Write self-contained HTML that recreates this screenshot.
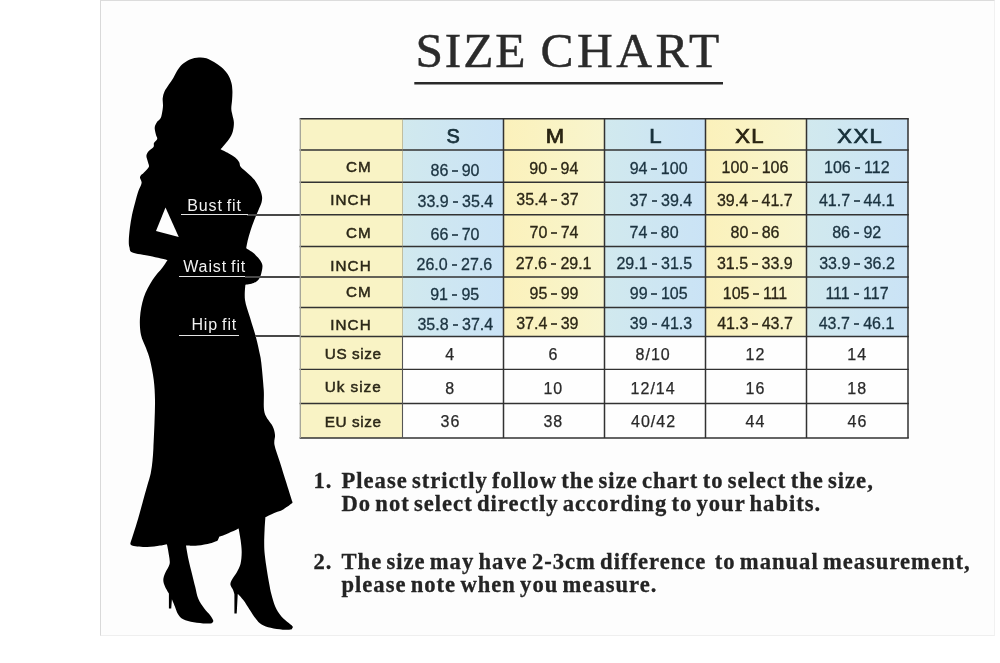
<!DOCTYPE html>
<html><head><meta charset="utf-8"><title>Size Chart</title>
<style>
html,body{margin:0;padding:0;background:#fff;}
body{width:1000px;height:663px;position:relative;overflow:hidden;font-family:"Liberation Sans",sans-serif;}
#panel{position:absolute;left:100px;top:0;width:895px;height:636px;background:#fdfdfd;border-left:1.5px solid #d9d9d9;border-top:1px solid #dcdcdc;border-right:1px solid #f1f1f1;border-bottom:1.5px solid #efefef;box-sizing:border-box;}
#all{position:absolute;left:0;top:0;width:1000px;height:663px;will-change:transform;}
#title{position:absolute;left:415.4px;top:22.6px;font-family:"Liberation Serif",serif;font-size:49.5px;line-height:56px;letter-spacing:1.9px;word-spacing:-1.2px;color:#2b2b2b;white-space:nowrap;-webkit-text-stroke:0.45px #2b2b2b;}
#title b{font-weight:normal;letter-spacing:3.5px;}
.bg{position:absolute;}
.t{position:absolute;width:0;height:20px;line-height:20px;white-space:nowrap;display:flex;justify-content:center;}
.t span{display:inline-block;flex:none;}
.h{height:24px;line-height:24px;}
.h span{font-size:19.5px;letter-spacing:1.2px;margin-right:-1.2px;transform:scaleX(1.13);-webkit-text-stroke:0.7px currentColor;}
.hb{color:#17303a;}
.hy{color:#2a2412;}
.d span{font-size:16px;letter-spacing:0;-webkit-text-stroke:0.3px currentColor;}
i{display:inline-block;width:5.6px;height:2px;background:currentColor;opacity:.8;margin:0 3.9px;vertical-align:4px;}
.db{color:#1b3340;}
.dy{color:#2b2616;}
.dn{color:#2a2a2a;}
.dn span{letter-spacing:1px;margin-right:-1px;-webkit-text-stroke:0.25px currentColor;}
.l{position:absolute;height:20px;line-height:20px;white-space:nowrap;color:#2c2818;-webkit-text-stroke:0.25px #2c2818;}
.lr{font-size:15.2px;letter-spacing:1.1px;-webkit-text-stroke-width:0.5px;}
.ll{font-size:15.3px;letter-spacing:0.6px;-webkit-text-stroke-width:0.5px;}
.lab{position:absolute;color:#f2f2f2;font-size:16px;letter-spacing:0.9px;word-spacing:-1.4px;white-space:nowrap;line-height:18px;}
.wl{position:absolute;height:1px;background:#e4e4e4;}
.bl{position:absolute;height:1.4px;background:#484848;}
.note{position:absolute;font-family:"Liberation Serif",serif;font-weight:bold;font-size:22.6px;line-height:22.9px;letter-spacing:1px;word-spacing:-2.4px;-webkit-text-stroke:0.3px #242424;color:#242424;white-space:nowrap;}
</style></head><body>
<div id="panel"></div>
<div id="all">
<div id="title">SIZE <b>CHART</b></div>

<svg width="1000" height="663" style="position:absolute;left:0;top:0" viewBox="0 0 1000 663">
<path d="M198.90 57.50 C201.65 57.32 203.88 57.53 206.40 58.30 C208.92 59.07 211.48 60.60 214.00 62.10 C216.52 63.60 219.23 65.30 221.50 67.30 C223.77 69.30 225.97 71.58 227.60 74.10 C229.23 76.62 230.50 79.63 231.30 82.40 C232.10 85.17 232.27 87.80 232.40 90.70 C232.53 93.60 232.28 96.78 232.10 99.80 C231.92 102.82 231.25 106.28 231.30 108.80 C231.35 111.32 231.97 112.63 232.40 114.90 C232.83 117.17 233.83 119.65 233.90 122.40 C233.97 125.15 233.60 128.63 232.80 131.40 C232.00 134.17 230.73 136.48 229.10 139.00 C227.47 141.52 224.43 144.78 223.00 146.50 C221.57 148.22 220.50 149.30 220.50 149.30 C220.50 149.30 226.35 152.05 228.80 153.40 C231.25 154.75 233.47 155.93 235.20 157.40 C236.93 158.87 238.27 160.60 239.20 162.20 C240.13 163.80 239.33 165.13 240.80 167.00 C242.27 168.87 245.73 171.27 248.00 173.40 C250.27 175.53 252.53 177.40 254.40 179.80 C256.27 182.20 257.95 185.13 259.20 187.80 C260.45 190.47 261.50 193.40 261.90 195.80 C262.30 198.20 262.18 199.80 261.60 202.20 C261.02 204.60 259.60 207.27 258.40 210.20 C257.20 213.13 255.73 216.33 254.40 219.80 C253.07 223.27 251.52 227.53 250.40 231.00 C249.28 234.47 248.40 237.72 247.70 240.60 C247.00 243.48 246.20 248.30 246.20 248.30 C246.20 248.30 250.67 250.85 252.80 252.60 C254.93 254.35 257.42 256.78 259.00 258.80 C260.58 260.82 261.85 262.60 262.30 264.70 C262.75 266.80 262.25 269.02 261.70 271.40 C261.15 273.78 260.33 277.07 259.00 279.00 C257.67 280.93 255.97 282.05 253.70 283.00 C251.43 283.95 245.40 284.70 245.40 284.70 C245.40 284.70 244.23 294.53 245.00 300.00 C245.77 305.47 248.17 311.25 250.00 317.50 C251.83 323.75 254.33 331.25 256.00 337.50 C257.67 343.75 259.12 350.83 260.00 355.00 C260.88 359.17 260.62 356.67 261.25 362.50 C261.88 368.33 263.21 381.67 263.75 390.00 C264.29 398.33 263.04 406.50 264.50 412.50 C265.96 418.50 270.75 422.25 272.50 426.00 C274.25 429.75 274.67 431.83 275.00 435.00 C275.33 438.17 273.67 440.42 274.50 445.00 C275.33 449.58 278.04 456.25 280.00 462.50 C281.96 468.75 284.20 475.98 286.25 482.50 C288.30 489.02 292.30 501.60 292.30 501.60 C292.30 501.60 293.20 502.25 291.60 503.60 C290.00 504.95 285.38 508.20 282.70 509.70 C280.02 511.20 278.38 511.33 275.50 512.60 C272.62 513.87 265.40 517.30 265.40 517.30 C265.40 517.30 264.80 525.15 264.60 529.60 C264.40 534.05 264.17 539.75 264.20 544.00 C264.23 548.25 264.35 550.73 264.80 555.10 C265.25 559.47 266.17 565.43 266.90 570.20 C267.63 574.97 268.45 579.68 269.20 583.70 C269.95 587.72 270.40 590.52 271.40 594.30 C272.40 598.08 273.57 602.75 275.20 606.40 C276.83 610.05 278.93 613.43 281.20 616.20 C283.47 618.97 286.87 621.25 288.80 623.00 C290.73 624.75 292.37 625.63 292.80 626.70 C293.23 627.77 291.40 629.40 291.40 629.40 C291.40 629.40 286.15 629.97 282.70 629.70 C279.25 629.43 274.22 628.67 270.70 627.80 C267.18 626.93 264.12 626.07 261.60 624.50 C259.08 622.93 257.62 620.92 255.60 618.40 C253.58 615.88 251.52 612.42 249.50 609.40 C247.48 606.38 245.45 602.92 243.50 600.30 C241.55 597.68 237.80 593.70 237.80 593.70 C237.80 593.70 236.80 613.50 236.80 613.50 C236.80 613.50 234.40 613.50 234.40 613.50 C234.40 613.50 234.40 594.30 234.40 594.30 C234.40 594.30 233.67 591.43 233.00 589.80 C232.33 588.17 230.53 586.27 230.40 584.50 C230.27 582.73 231.15 581.22 232.20 579.20 C233.25 577.18 235.32 574.92 236.70 572.40 C238.08 569.88 239.67 567.48 240.50 564.10 C241.33 560.72 241.68 556.12 241.70 552.10 C241.72 548.08 241.12 543.93 240.60 540.00 C240.08 536.07 238.60 528.50 238.60 528.50 C238.60 528.50 234.38 530.55 232.10 531.60 C229.82 532.65 227.02 533.97 224.90 534.80 C222.78 535.63 219.40 536.60 219.40 536.60 C219.40 536.60 217.80 540.40 217.80 540.40 C217.80 540.40 213.73 542.43 210.40 543.30 C207.07 544.17 201.87 545.22 197.80 545.60 C193.73 545.98 186.00 545.60 186.00 545.60 C186.00 545.60 187.47 554.75 188.50 559.60 C189.53 564.45 191.08 570.17 192.20 574.70 C193.32 579.23 194.18 582.78 195.20 586.80 C196.22 590.82 196.78 595.17 198.30 598.80 C199.82 602.43 202.30 605.83 204.30 608.60 C206.30 611.37 208.80 613.38 210.30 615.40 C211.80 617.42 213.05 619.40 213.30 620.70 C213.55 622.00 211.80 623.20 211.80 623.20 C211.80 623.20 208.82 623.67 205.80 623.50 C202.78 623.33 197.47 622.92 193.70 622.20 C189.93 621.48 185.83 620.58 183.20 619.20 C180.57 617.82 179.28 616.03 177.90 613.90 C176.52 611.77 175.90 608.85 174.90 606.40 C173.90 603.95 171.90 599.20 171.90 599.20 C171.90 599.20 171.30 608.60 171.30 608.60 C171.30 608.60 168.90 608.60 168.90 608.60 C168.90 608.60 168.90 593.50 168.90 593.50 C168.90 593.50 166.03 589.05 165.10 586.80 C164.17 584.55 163.30 582.27 163.30 580.00 C163.30 577.73 164.05 575.85 165.10 573.20 C166.15 570.55 168.97 567.12 169.60 564.10 C170.23 561.08 169.28 558.12 168.90 555.10 C168.52 552.08 167.65 547.82 167.30 546.00 C166.95 544.18 166.80 544.20 166.80 544.20 C166.80 544.20 163.28 545.12 160.00 545.60 C156.72 546.08 151.65 547.07 147.10 547.10 C142.55 547.13 135.48 546.47 132.70 545.80 C129.92 545.13 130.40 543.10 130.40 543.10 C130.40 543.10 132.32 537.27 133.60 533.20 C134.88 529.13 136.60 523.83 138.10 518.70 C139.60 513.57 141.10 507.82 142.60 502.40 C144.10 496.98 145.75 491.02 147.10 486.20 C148.45 481.38 149.80 477.73 150.70 473.50 C151.60 469.27 152.05 465.05 152.50 460.80 C152.95 456.55 153.07 454.38 153.40 448.00 C153.73 441.62 154.23 430.50 154.50 422.50 C154.77 414.50 155.12 407.08 155.00 400.00 C154.88 392.92 154.58 386.67 153.75 380.00 C152.92 373.33 151.29 365.33 150.00 360.00 C148.71 354.67 147.50 352.17 146.00 348.00 C144.50 343.83 142.00 340.08 141.00 335.00 C140.00 329.92 139.54 323.75 140.00 317.50 C140.46 311.25 141.67 303.75 143.75 297.50 C145.83 291.25 149.38 285.00 152.50 280.00 C155.62 275.00 160.00 270.83 162.50 267.50 C165.00 264.17 167.50 260.00 167.50 260.00 C167.50 260.00 155.83 257.25 150.00 256.00 C144.17 254.75 135.92 253.92 132.50 252.50 C129.08 251.08 130.12 249.48 129.50 247.50 C128.88 245.52 128.73 243.88 128.80 240.60 C128.87 237.32 129.37 232.07 129.90 227.80 C130.43 223.53 131.12 219.27 132.00 215.00 C132.88 210.73 134.13 206.20 135.20 202.20 C136.27 198.20 137.33 194.20 138.40 191.00 C139.47 187.80 141.33 185.35 141.60 183.00 C141.87 180.65 139.60 178.63 140.00 176.90 C140.40 175.17 142.53 174.25 144.00 172.60 C145.47 170.95 148.13 168.73 148.80 167.00 C149.47 165.27 148.40 164.07 148.00 162.20 C147.60 160.33 146.27 157.67 146.40 155.80 C146.53 153.93 147.62 152.47 148.80 151.00 C149.98 149.53 152.63 148.33 153.50 147.00 C154.37 145.67 153.38 144.33 154.00 143.00 C154.62 141.67 156.88 140.42 157.20 139.00 C157.52 137.58 156.32 136.38 155.90 134.50 C155.48 132.62 154.57 129.72 154.70 127.70 C154.83 125.68 155.75 123.92 156.70 122.40 C157.65 120.88 159.52 120.12 160.40 118.60 C161.28 117.08 161.57 115.43 162.00 113.30 C162.43 111.17 162.88 108.30 163.00 105.80 C163.12 103.30 162.45 100.68 162.70 98.30 C162.95 95.92 163.50 93.77 164.50 91.50 C165.50 89.23 167.23 86.97 168.70 84.70 C170.17 82.43 171.92 80.17 173.30 77.90 C174.68 75.63 175.50 73.37 177.00 71.10 C178.50 68.83 180.15 66.25 182.30 64.30 C184.45 62.35 187.13 60.53 189.90 59.40 C192.67 58.27 196.15 57.68 198.90 57.50Z" fill="#000"/>
<path d="M165.5 207.5 L156 231 L178.75 237 Z" fill="#fdfdfd"/>
<path d="M414.3 83.2H723" stroke="#2a2a2a" stroke-width="2.6"/>
</svg>
<div class="bl" style="left:247px;top:214.3px;width:54px"></div>
<div class="bl" style="left:245px;top:276.3px;width:56px"></div>
<div class="bl" style="left:255px;top:335.3px;width:46px"></div>
<div class="bg" style="left:300px;top:118.8px;width:102.5px;height:31.2px;background:#f9f3c5"></div>
<div class="bg" style="left:402.5px;top:118.8px;width:101px;height:31.2px;background:linear-gradient(90deg,#d1e9ee,#cae3f6)"></div>
<div class="bg" style="left:503.5px;top:118.8px;width:101px;height:31.2px;background:linear-gradient(90deg,#fbf1bb,#f8f5ce)"></div>
<div class="bg" style="left:604.5px;top:118.8px;width:101px;height:31.2px;background:linear-gradient(90deg,#d1e9ee,#cae3f6)"></div>
<div class="bg" style="left:705.5px;top:118.8px;width:101px;height:31.2px;background:linear-gradient(90deg,#fbf1bb,#f8f5ce)"></div>
<div class="bg" style="left:806.5px;top:118.8px;width:101.5px;height:31.2px;background:linear-gradient(90deg,#d1e9ee,#cae3f6)"></div>
<div class="bg" style="left:300px;top:150px;width:102.5px;height:32.3px;background:#f9f3c5"></div>
<div class="bg" style="left:402.5px;top:150px;width:101px;height:32.3px;background:linear-gradient(90deg,#d1e9ee,#cae3f6)"></div>
<div class="bg" style="left:503.5px;top:150px;width:101px;height:32.3px;background:linear-gradient(90deg,#fbf1bb,#f8f5ce)"></div>
<div class="bg" style="left:604.5px;top:150px;width:101px;height:32.3px;background:linear-gradient(90deg,#d1e9ee,#cae3f6)"></div>
<div class="bg" style="left:705.5px;top:150px;width:101px;height:32.3px;background:linear-gradient(90deg,#fbf1bb,#f8f5ce)"></div>
<div class="bg" style="left:806.5px;top:150px;width:101.5px;height:32.3px;background:linear-gradient(90deg,#d1e9ee,#cae3f6)"></div>
<div class="bg" style="left:300px;top:182.3px;width:102.5px;height:32.5px;background:#f9f3c5"></div>
<div class="bg" style="left:402.5px;top:182.3px;width:101px;height:32.5px;background:linear-gradient(90deg,#d1e9ee,#cae3f6)"></div>
<div class="bg" style="left:503.5px;top:182.3px;width:101px;height:32.5px;background:linear-gradient(90deg,#fbf1bb,#f8f5ce)"></div>
<div class="bg" style="left:604.5px;top:182.3px;width:101px;height:32.5px;background:linear-gradient(90deg,#d1e9ee,#cae3f6)"></div>
<div class="bg" style="left:705.5px;top:182.3px;width:101px;height:32.5px;background:linear-gradient(90deg,#fbf1bb,#f8f5ce)"></div>
<div class="bg" style="left:806.5px;top:182.3px;width:101.5px;height:32.5px;background:linear-gradient(90deg,#d1e9ee,#cae3f6)"></div>
<div class="bg" style="left:300px;top:214.8px;width:102.5px;height:31.8px;background:#f9f3c5"></div>
<div class="bg" style="left:402.5px;top:214.8px;width:101px;height:31.8px;background:linear-gradient(90deg,#d1e9ee,#cae3f6)"></div>
<div class="bg" style="left:503.5px;top:214.8px;width:101px;height:31.8px;background:linear-gradient(90deg,#fbf1bb,#f8f5ce)"></div>
<div class="bg" style="left:604.5px;top:214.8px;width:101px;height:31.8px;background:linear-gradient(90deg,#d1e9ee,#cae3f6)"></div>
<div class="bg" style="left:705.5px;top:214.8px;width:101px;height:31.8px;background:linear-gradient(90deg,#fbf1bb,#f8f5ce)"></div>
<div class="bg" style="left:806.5px;top:214.8px;width:101.5px;height:31.8px;background:linear-gradient(90deg,#d1e9ee,#cae3f6)"></div>
<div class="bg" style="left:300px;top:246.6px;width:102.5px;height:30.4px;background:#f9f3c5"></div>
<div class="bg" style="left:402.5px;top:246.6px;width:101px;height:30.4px;background:linear-gradient(90deg,#d1e9ee,#cae3f6)"></div>
<div class="bg" style="left:503.5px;top:246.6px;width:101px;height:30.4px;background:linear-gradient(90deg,#fbf1bb,#f8f5ce)"></div>
<div class="bg" style="left:604.5px;top:246.6px;width:101px;height:30.4px;background:linear-gradient(90deg,#d1e9ee,#cae3f6)"></div>
<div class="bg" style="left:705.5px;top:246.6px;width:101px;height:30.4px;background:linear-gradient(90deg,#fbf1bb,#f8f5ce)"></div>
<div class="bg" style="left:806.5px;top:246.6px;width:101.5px;height:30.4px;background:linear-gradient(90deg,#d1e9ee,#cae3f6)"></div>
<div class="bg" style="left:300px;top:277px;width:102.5px;height:30.6px;background:#f9f3c5"></div>
<div class="bg" style="left:402.5px;top:277px;width:101px;height:30.6px;background:linear-gradient(90deg,#d1e9ee,#cae3f6)"></div>
<div class="bg" style="left:503.5px;top:277px;width:101px;height:30.6px;background:linear-gradient(90deg,#fbf1bb,#f8f5ce)"></div>
<div class="bg" style="left:604.5px;top:277px;width:101px;height:30.6px;background:linear-gradient(90deg,#d1e9ee,#cae3f6)"></div>
<div class="bg" style="left:705.5px;top:277px;width:101px;height:30.6px;background:linear-gradient(90deg,#fbf1bb,#f8f5ce)"></div>
<div class="bg" style="left:806.5px;top:277px;width:101.5px;height:30.6px;background:linear-gradient(90deg,#d1e9ee,#cae3f6)"></div>
<div class="bg" style="left:300px;top:307.6px;width:102.5px;height:29px;background:#f9f3c5"></div>
<div class="bg" style="left:402.5px;top:307.6px;width:101px;height:29px;background:linear-gradient(90deg,#d1e9ee,#cae3f6)"></div>
<div class="bg" style="left:503.5px;top:307.6px;width:101px;height:29px;background:linear-gradient(90deg,#fbf1bb,#f8f5ce)"></div>
<div class="bg" style="left:604.5px;top:307.6px;width:101px;height:29px;background:linear-gradient(90deg,#d1e9ee,#cae3f6)"></div>
<div class="bg" style="left:705.5px;top:307.6px;width:101px;height:29px;background:linear-gradient(90deg,#fbf1bb,#f8f5ce)"></div>
<div class="bg" style="left:806.5px;top:307.6px;width:101.5px;height:29px;background:linear-gradient(90deg,#d1e9ee,#cae3f6)"></div>
<div class="bg" style="left:300px;top:336.6px;width:102.5px;height:32.8px;background:#f9f3c5"></div>
<div class="bg" style="left:402.5px;top:336.6px;width:101px;height:32.8px;background:#fefefe"></div>
<div class="bg" style="left:503.5px;top:336.6px;width:101px;height:32.8px;background:#fefefe"></div>
<div class="bg" style="left:604.5px;top:336.6px;width:101px;height:32.8px;background:#fefefe"></div>
<div class="bg" style="left:705.5px;top:336.6px;width:101px;height:32.8px;background:#fefefe"></div>
<div class="bg" style="left:806.5px;top:336.6px;width:101.5px;height:32.8px;background:#fefefe"></div>
<div class="bg" style="left:300px;top:369.4px;width:102.5px;height:34.1px;background:#f9f3c5"></div>
<div class="bg" style="left:402.5px;top:369.4px;width:101px;height:34.1px;background:#fefefe"></div>
<div class="bg" style="left:503.5px;top:369.4px;width:101px;height:34.1px;background:#fefefe"></div>
<div class="bg" style="left:604.5px;top:369.4px;width:101px;height:34.1px;background:#fefefe"></div>
<div class="bg" style="left:705.5px;top:369.4px;width:101px;height:34.1px;background:#fefefe"></div>
<div class="bg" style="left:806.5px;top:369.4px;width:101.5px;height:34.1px;background:#fefefe"></div>
<div class="bg" style="left:300px;top:403.5px;width:102.5px;height:34.5px;background:#f9f3c5"></div>
<div class="bg" style="left:402.5px;top:403.5px;width:101px;height:34.5px;background:#fefefe"></div>
<div class="bg" style="left:503.5px;top:403.5px;width:101px;height:34.5px;background:#fefefe"></div>
<div class="bg" style="left:604.5px;top:403.5px;width:101px;height:34.5px;background:#fefefe"></div>
<div class="bg" style="left:705.5px;top:403.5px;width:101px;height:34.5px;background:#fefefe"></div>
<div class="bg" style="left:806.5px;top:403.5px;width:101.5px;height:34.5px;background:#fefefe"></div>
<svg width="1000" height="663" style="position:absolute;left:0;top:0" viewBox="0 0 1000 663" fill="none" stroke="#323232" stroke-width="1.5"><path d="M299.6 118.8H908.8"/><path d="M299.6 150H908.8"/><path d="M299.6 182.3H908.8"/><path d="M299.6 214.8H908.8"/><path d="M299.6 246.6H908.8"/><path d="M299.6 277H908.8"/><path d="M299.6 307.6H908.8"/><path d="M299.6 336.6H908.8"/><path d="M299.6 369.4H908.8" stroke-width="1.3"/><path d="M299.6 403.5H908.8" stroke-width="1.3"/><path d="M299.6 438H908.8" stroke-width="1.3"/><path d="M300.3 118.8V438" stroke="#a3a297" stroke-width="1.3"/><path d="M402.5 118.8V336.6" stroke="#8a8a7a" stroke-width="1" opacity=".5"/><path d="M402.5 336.6V438" stroke="#555" stroke-width="1.1"/><path d="M503.5 118.8V438"/><path d="M604.5 118.8V438"/><path d="M705.5 118.8V438"/><path d="M806.5 118.8V438"/><path d="M908 118.8V438"/></svg>
<div class="t h hb" style="left:452.8px;top:123.84px"><span style="transform:scaleX(0.95);-webkit-text-stroke-width:0.75px;font-size:21px">S</span></div>
<div class="t h hy" style="left:555.1px;top:123.84px"><span>M</span></div>
<div class="t h hb" style="left:655.9px;top:123.84px"><span>L</span></div>
<div class="t h hy" style="left:749.7px;top:123.84px"><span>XL</span></div>
<div class="t h hb" style="left:859.3px;top:123.84px"><span>XXL</span></div>
<div class="t d db" style="left:455px;top:161px"><span>86<i></i>90</span></div>
<div class="t d dy" style="left:553.8px;top:159px"><span>90<i></i>94</span></div>
<div class="t d db" style="left:658.6px;top:159px"><span>94<i></i>100</span></div>
<div class="t d dy" style="left:755px;top:158px"><span>100<i></i>106</span></div>
<div class="t d db" style="left:856.8px;top:158px"><span>106<i></i>112</span></div>
<div class="t d db" style="left:455.4px;top:192px"><span>33.9<i></i>35.4</span></div>
<div class="t d dy" style="left:547.5px;top:190px"><span>35.4<i></i>37</span></div>
<div class="t d db" style="left:661px;top:191px"><span>37<i></i>39.4</span></div>
<div class="t d dy" style="left:754.8px;top:191px"><span>39.4<i></i>41.7</span></div>
<div class="t d db" style="left:856.8px;top:191px"><span>41.7<i></i>44.1</span></div>
<div class="t d db" style="left:455px;top:225px"><span>66<i></i>70</span></div>
<div class="t d dy" style="left:554px;top:223px"><span>70<i></i>74</span></div>
<div class="t d db" style="left:654.1px;top:223px"><span>74<i></i>80</span></div>
<div class="t d dy" style="left:755px;top:223px"><span>80<i></i>86</span></div>
<div class="t d db" style="left:856.7px;top:223px"><span>86<i></i>92</span></div>
<div class="t d db" style="left:454.4px;top:255px"><span>26.0<i></i>27.6</span></div>
<div class="t d dy" style="left:553.7px;top:254px"><span>27.6<i></i>29.1</span></div>
<div class="t d db" style="left:654.3px;top:254px"><span>29.1<i></i>31.5</span></div>
<div class="t d dy" style="left:754.8px;top:254px"><span>31.5<i></i>33.9</span></div>
<div class="t d db" style="left:857px;top:254px"><span>33.9<i></i>36.2</span></div>
<div class="t d db" style="left:454.7px;top:285px"><span>91<i></i>95</span></div>
<div class="t d dy" style="left:554px;top:284px"><span>95<i></i>99</span></div>
<div class="t d db" style="left:658.7px;top:284px"><span>99<i></i>105</span></div>
<div class="t d dy" style="left:755px;top:284px"><span>105<i></i>111</span></div>
<div class="t d db" style="left:857px;top:284px"><span>111<i></i>117</span></div>
<div class="t d db" style="left:455.3px;top:315px"><span>35.8<i></i>37.4</span></div>
<div class="t d dy" style="left:547.3px;top:314px"><span>37.4<i></i>39</span></div>
<div class="t d db" style="left:661px;top:314px"><span>39<i></i>41.3</span></div>
<div class="t d dy" style="left:755px;top:314px"><span>41.3<i></i>43.7</span></div>
<div class="t d db" style="left:856.5px;top:314px"><span>43.7<i></i>46.1</span></div>
<div class="t d dn" style="left:449.7px;top:345px"><span>4</span></div>
<div class="t d dn" style="left:552.9px;top:345px"><span>6</span></div>
<div class="t d dn" style="left:652.6px;top:345px"><span>8/10</span></div>
<div class="t d dn" style="left:755px;top:345px"><span>12</span></div>
<div class="t d dn" style="left:856.7px;top:345px"><span>14</span></div>
<div class="t d dn" style="left:449.8px;top:379px"><span>8</span></div>
<div class="t d dn" style="left:552.8px;top:379px"><span>10</span></div>
<div class="t d dn" style="left:652.6px;top:379px"><span>12/14</span></div>
<div class="t d dn" style="left:755px;top:379px"><span>16</span></div>
<div class="t d dn" style="left:856.7px;top:379px"><span>18</span></div>
<div class="t d dn" style="left:450px;top:412px"><span>36</span></div>
<div class="t d dn" style="left:552.8px;top:412px"><span>38</span></div>
<div class="t d dn" style="left:653px;top:412px"><span>40/42</span></div>
<div class="t d dn" style="left:755px;top:412px"><span>44</span></div>
<div class="t d dn" style="left:857px;top:412px"><span>46</span></div>
<div class="l lr" style="right:628.3px;top:156.73px">CM</div>
<div class="l lr" style="right:628.3px;top:189.73px">INCH</div>
<div class="l lr" style="right:628.3px;top:222.73px">CM</div>
<div class="l lr" style="right:628.3px;top:255.73px">INCH</div>
<div class="l lr" style="right:628.3px;top:281.73px">CM</div>
<div class="l lr" style="right:628.3px;top:314.73px">INCH</div>
<div class="l ll" style="left:324.8px;top:343.90px">US size</div>
<div class="l ll" style="left:324.8px;top:377.10px;letter-spacing:0.95px">Uk size</div>
<div class="l ll" style="left:324.8px;top:412.40px">EU size</div>
<div class="lab" style="left:187.2px;top:196.6px">Bust fit</div>
<div class="wl" style="left:180.5px;top:214.2px;width:67px"></div>
<div class="lab" style="left:183.2px;top:257.8px">Waist fit</div>
<div class="wl" style="left:178.5px;top:276.2px;width:66.5px"></div>
<div class="lab" style="left:191.4px;top:315.6px">Hip fit</div>
<div class="wl" style="left:178.5px;top:335.2px;width:60.5px"></div>
<div class="note" style="left:313.5px;top:470px">1.</div>
<div class="note" style="left:341.5px;top:470px">Please strictly follow the size chart to select the size,<br>Do not select directly according to your habits.</div>
<div class="note" style="left:313.5px;top:551px">2.</div>
<div class="note" style="left:341.5px;top:551px">The size may have 2-3cm difference&nbsp; to manual measurement,<br>please note when you measure.</div>
</div>
</body></html>
